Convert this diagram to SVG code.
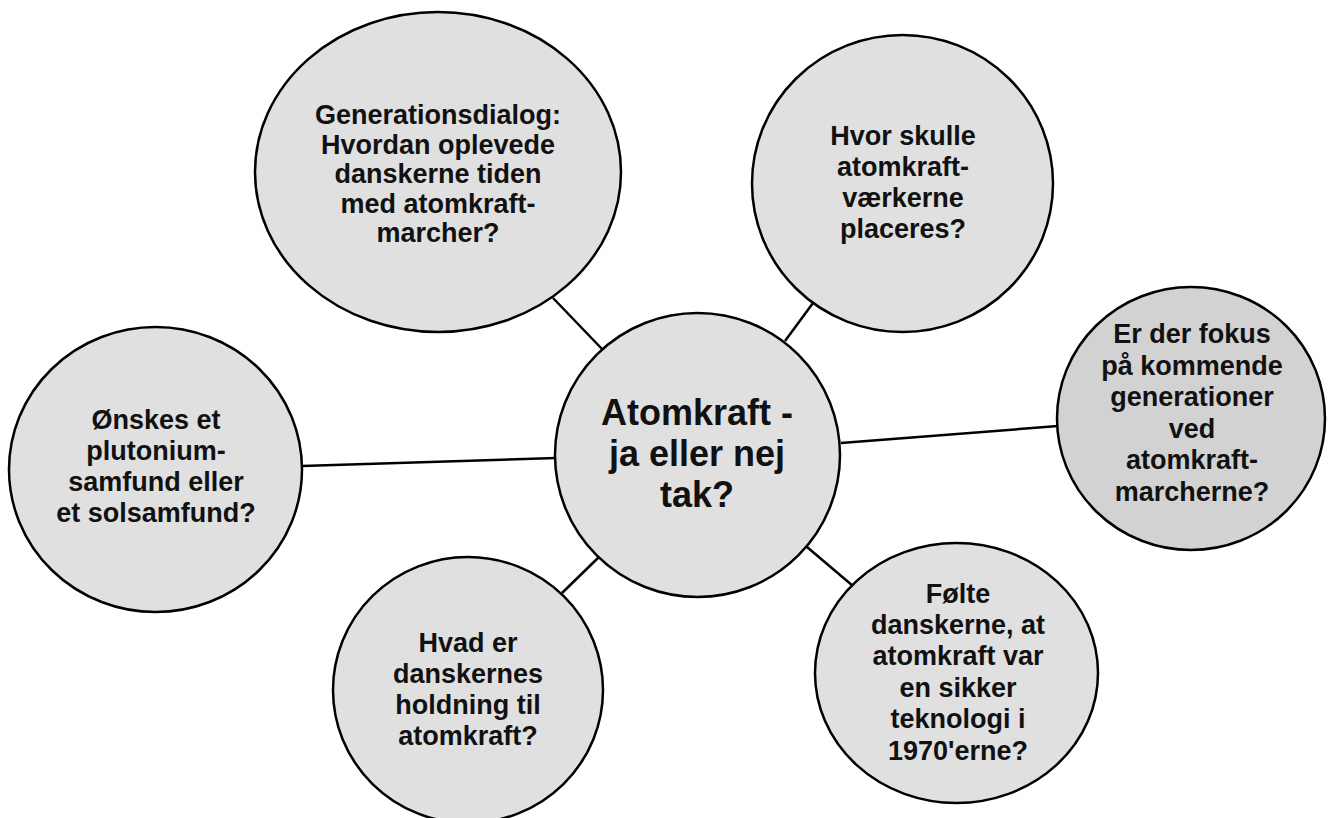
<svg xmlns="http://www.w3.org/2000/svg" width="1328" height="818" viewBox="0 0 1328 818">
<style>
.n{fill:#e0e0e0;stroke:#000;stroke-width:2.5}
.d{fill:#d2d2d2}
.c{stroke:#000;stroke-width:2.5;fill:none}
text{font-family:"Liberation Sans",Arial,sans-serif;font-weight:bold;font-size:27px;fill:#111;text-anchor:middle}
.big{font-size:36px}
</style>
<rect width="1328" height="818" fill="#fff"/>
<g id="connectors">
<line class="c" x1="553" y1="298" x2="602" y2="349"/>
<line class="c" x1="813" y1="303" x2="785" y2="341"/>
<line class="c" x1="302" y1="466" x2="556" y2="458"/>
<line class="c" x1="841" y1="443" x2="1058" y2="426"/>
<line class="c" x1="562" y1="593" x2="599" y2="557"/>
<line class="c" x1="807" y1="547" x2="853" y2="586"/>
</g>
<g id="center">
<ellipse class="n" cx="697.5" cy="455" rx="142.5" ry="142"/>
<text class="big" x="697" y="425">Atomkraft -</text>
<text class="big" x="697" y="466">ja eller nej</text>
<text class="big" x="697" y="507">tak?</text>
</g>
<g id="generationsdialog">
<ellipse class="n" cx="438" cy="172" rx="183" ry="160"/>
<text x="438" y="124">Generationsdialog:</text>
<text x="438" y="154">Hvordan oplevede</text>
<text x="438" y="183">danskerne tiden</text>
<text x="438" y="213">med atomkraft-</text>
<text x="438" y="242">marcher?</text>
</g>
<g id="placering">
<ellipse class="n" cx="902.5" cy="183.5" rx="150.5" ry="148.5"/>
<text x="903" y="145">Hvor skulle</text>
<text x="903" y="176">atomkraft-</text>
<text x="903" y="207">værkerne</text>
<text x="903" y="238">placeres?</text>
</g>
<g id="generationer">
<ellipse class="n d" cx="1191" cy="418.5" rx="134" ry="131.5"/>
<text x="1192" y="343">Er der fokus</text>
<text x="1192" y="375">på kommende</text>
<text x="1192" y="406">generationer</text>
<text x="1192" y="438">ved</text>
<text x="1192" y="469">atomkraft-</text>
<text x="1192" y="501">marcherne?</text>
</g>
<g id="plutonium">
<ellipse class="n" cx="155.5" cy="469.5" rx="146.5" ry="142.5"/>
<text x="156" y="429">Ønskes et</text>
<text x="156" y="460">plutonium-</text>
<text x="156" y="491">samfund eller</text>
<text x="156" y="522">et solsamfund?</text>
</g>
<g id="holdning">
<ellipse class="n" cx="468" cy="690" rx="135" ry="133"/>
<text x="468" y="652">Hvad er</text>
<text x="468" y="683">danskernes</text>
<text x="468" y="714">holdning til</text>
<text x="468" y="745">atomkraft?</text>
</g>
<g id="sikker">
<ellipse class="n" cx="956.5" cy="673" rx="141.5" ry="130"/>
<text x="958" y="603">Følte</text>
<text x="958" y="634">danskerne, at</text>
<text x="958" y="665">atomkraft var</text>
<text x="958" y="697">en sikker</text>
<text x="958" y="728">teknologi i</text>
<text x="958" y="760">1970'erne?</text>
</g>
</svg>
